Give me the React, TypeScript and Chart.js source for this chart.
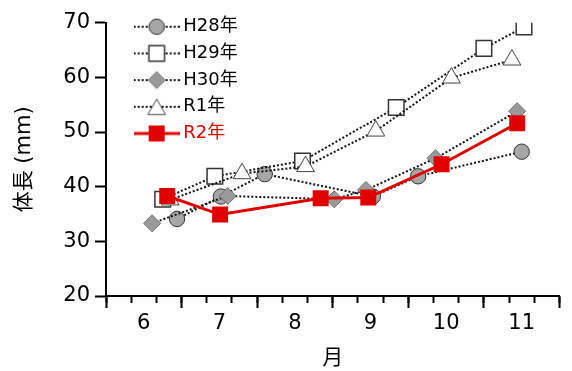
import React, { useEffect, useRef } from 'react';
import { Chart, registerables } from 'chart.js';

Chart.register(...registerables);

// ---- data (x = month + fraction of month) ----
const MONTH_LABELS = ['6', '7', '8', '9', '10', '11'];
const SERIES_NAMES = ['H28年', 'H29年', 'H30年', 'R1年', 'R2年'];

const H28_X = [6.94, 7.52, 8.1, 9.53, 10.13, 11.5];
const H28_Y = [34.1, 38.2, 42.3, 38.2, 41.9, 46.4];

const H29_X = [6.75, 7.44, 8.6, 9.84, 11.0, 11.53];
const H29_Y = [37.7, 41.9, 44.7, 54.5, 65.3, 69.2];

const H30_X = [6.61, 7.61, 9.02, 9.44, 10.36, 11.44];
const H30_Y = [33.3, 38.3, 37.7, 39.4, 45.2, 53.8];

const R1_X = [6.85, 7.8, 8.64, 9.57, 10.57, 11.37];
const R1_Y = [37.6, 42.4, 43.7, 50.2, 59.9, 63.2];

const R2_X = [6.81, 7.51, 8.84, 9.47, 10.44, 11.44];
const R2_Y = [38.3, 34.9, 37.9, 38.0, 44.1, 51.6];

const Y_MIN = 20;
const Y_MAX = 70;
const Y_STEP = 10;

const FONT = "'DejaVu Sans', 'Noto Sans CJK JP', sans-serif";
const RED = '#e00000';

const zip = (xs: number[], ys: number[]) => xs.map((x, i) => ({ x, y: ys[i] }));

type Style = {
  shape: 'circle' | 'rect' | 'rectRot' | 'triangle';
  r: number;
  fill: string;
  stroke: string;
  bw: number;
  line: string;
  lw: number;
  dash: number[];
};

const STYLES: Style[] = [
  { shape: 'circle', r: 7.7, fill: '#a6a6a6', stroke: '#333333', bw: 1, line: '#111111', lw: 2, dash: [2, 2] },
  { shape: 'rect', r: 11, fill: '#ffffff', stroke: '#333333', bw: 1.5, line: '#111111', lw: 2, dash: [2, 2] },
  { shape: 'rectRot', r: 8.5, fill: '#9a9a9a', stroke: '#707070', bw: 1, line: '#111111', lw: 2, dash: [2, 2] },
  { shape: 'triangle', r: 10.3, fill: '#ffffff', stroke: '#444444', bw: 1, line: '#111111', lw: 2, dash: [2, 2] },
  { shape: 'rect', r: 11.3, fill: RED, stroke: RED, bw: 0, line: RED, lw: 3, dash: [] },
];

function makeIcon(s: Style): HTMLCanvasElement {
  const W = 46;
  const H = 24;
  const c = document.createElement('canvas');
  c.width = W;
  c.height = H;
  const ctx = c.getContext('2d')!;
  const cy = H / 2;
  const cx = W / 2;
  ctx.strokeStyle = s.line;
  ctx.lineWidth = s.lw;
  ctx.setLineDash(s.dash);
  ctx.beginPath();
  ctx.moveTo(0, cy);
  ctx.lineTo(W, cy);
  ctx.stroke();
  ctx.setLineDash([]);
  ctx.fillStyle = s.fill;
  ctx.strokeStyle = s.stroke;
  ctx.lineWidth = s.bw;
  ctx.beginPath();
  if (s.shape === 'circle') {
    ctx.arc(cx, cy, s.r, 0, Math.PI * 2);
  } else if (s.shape === 'rect') {
    const h = s.r * Math.SQRT1_2;
    ctx.rect(cx - h, cy - h, 2 * h, 2 * h);
  } else if (s.shape === 'rectRot') {
    ctx.moveTo(cx - s.r, cy);
    ctx.lineTo(cx, cy - s.r);
    ctx.lineTo(cx + s.r, cy);
    ctx.lineTo(cx, cy + s.r);
    ctx.closePath();
  } else {
    const top = cy - 0.75 * s.r;
    ctx.moveTo(cx, top);
    ctx.lineTo(cx + 0.866 * s.r, top + 1.5 * s.r);
    ctx.lineTo(cx - 0.866 * s.r, top + 1.5 * s.r);
    ctx.closePath();
  }
  ctx.fill();
  if (s.bw > 0) ctx.stroke();
  return c;
}

const legendMover = {
  id: 'legendMover',
  beforeDraw(chart: any) {
    const lg = chart.legend;
    if (lg) {
      lg.left = 130.3;
      lg.top = 9;
    }
  },
};

export default function App() {
  const ref = useRef<HTMLCanvasElement | null>(null);

  useEffect(() => {
    if (!ref.current) return;
    Chart.defaults.font.family = FONT;
    const XS = [H28_X, H29_X, H30_X, R1_X, R2_X];
    const YS = [H28_Y, H29_Y, H30_Y, R1_Y, R2_Y];
    const ORDERS = [5, 4, 3, 2, 1];
    const datasets = SERIES_NAMES.map((name, i) => {
      const s = STYLES[i];
      return {
        label: name,
        data: zip(XS[i], YS[i]),
        borderColor: s.line,
        borderWidth: s.lw,
        borderDash: s.dash,
        pointStyle: s.shape,
        pointRadius: s.r,
        pointBackgroundColor: s.fill,
        pointBorderColor: s.stroke,
        pointBorderWidth: s.bw,
        fill: false,
        tension: 0,
        order: ORDERS[i],
      };
    });
    const icons = STYLES.map(makeIcon);

    const chart = new Chart(ref.current, {
      type: 'line',
      data: { datasets } as any,
      plugins: [legendMover],
      options: {
        animation: false,
        responsive: false,
        events: [],
        layout: { padding: { left: 0, right: 6, top: 22.7, bottom: 0 } },
        plugins: {
          tooltip: { enabled: false },
          legend: {
            position: 'chartArea',
            align: 'start',
            labels: {
              usePointStyle: true,
              pointStyleWidth: 35.3,
              padding: 8.7,
              font: { size: 18, family: FONT },
              generateLabels: () =>
                SERIES_NAMES.map((name, i) => ({
                  text: name,
                  fontColor: i === 4 ? RED : '#000000',
                  pointStyle: icons[i],
                  datasetIndex: i,
                  hidden: false,
                  lineWidth: 0,
                  strokeStyle: 'rgba(0,0,0,0)',
                  fillStyle: 'rgba(0,0,0,0)',
                })) as any,
            },
          } as any,
        },
        scales: {
          x: {
            type: 'linear',
            position: 'bottom',
            min: 6,
            max: 12,
            afterBuildTicks: (s: any) => {
              const t = [];
              for (let k = 0; k <= 36; k++) t.push({ value: 6 + k / 6 });
              s.ticks = t;
            },
            afterFit: (s: any) => {
              s.height = 75;
            },
            ticks: {
              autoSkip: false,
              maxRotation: 0,
              minRotation: 0,
              padding: 8.4,
              color: '#000000',
              font: { size: 21, family: FONT },
              callback: (_v: any, i: number) => (i % 6 === 3 ? MONTH_LABELS[(i - 3) / 6] : ''),
            },
            grid: {
              display: true,
              drawOnChartArea: false,
              drawTicks: true,
              tickLength: 7,
              tickWidth: 2,
              tickColor: (c: any) => (c.index % 2 === 0 ? '#000000' : 'rgba(0,0,0,0)'),
            },
            border: { display: true, color: '#000000', width: 2 },
            title: {
              display: true,
              text: '月',
              color: '#000000',
              font: { size: 21, family: FONT },
              padding: { top: 0, bottom: 0 },
            },
          },
          x2: {
            type: 'linear',
            axis: 'x',
            position: { y: Y_MIN },
            min: 6,
            max: 12,
            afterBuildTicks: (s: any) => {
              s.ticks = MONTH_LABELS.concat(['12']).map((m) => ({ value: Number(m) }));
            },
            ticks: { display: false },
            grid: {
              display: true,
              drawOnChartArea: false,
              drawTicks: true,
              tickLength: 12,
              tickWidth: 2,
              tickColor: '#000000',
            },
            border: { display: false },
          },
          y: {
            type: 'linear',
            position: 'left',
            min: Y_MIN,
            max: Y_MAX,
            ticks: {
              stepSize: Y_STEP,
              padding: 5,
              color: '#000000',
              font: { size: 21, family: FONT },
            },
            afterFit: (s: any) => {
              s.width = 106;
            },
            grid: {
              display: true,
              drawOnChartArea: false,
              drawTicks: true,
              tickLength: 11,
              tickWidth: 2,
              tickColor: '#000000',
            },
            border: { display: true, color: '#000000', width: 2 },
            title: {
              display: true,
              text: '体長 (mm)',
              color: '#000000',
              font: { size: 21, family: FONT },
              padding: { top: 12.4, bottom: 0 },
            },
          },
        } as any,
      },
    });
    return () => chart.destroy();
  }, []);

  return (
    <canvas
      ref={ref}
      width={572}
      height={371}
      style={{ position: 'fixed', left: 0, top: 0, display: 'block' }}
    />
  );
}
